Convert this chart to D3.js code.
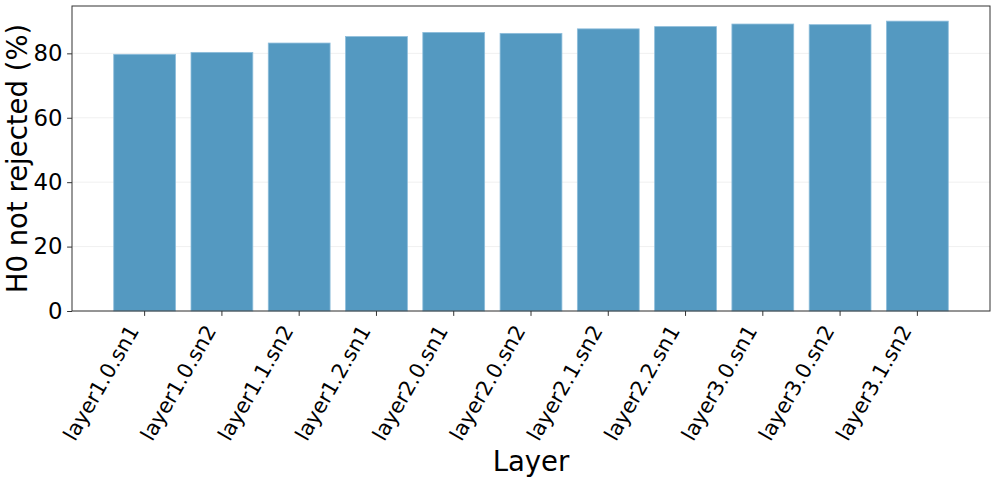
<!DOCTYPE html>
<html>
<head>
<meta charset="utf-8">
<script src="https://cdn.jsdelivr.net/npm/d3@7"></script>
<style>
  html, body { margin: 0; padding: 0; background: #fff; }
  svg { display: block; font-family: "DejaVu Sans", sans-serif; }
</style>
</head>
<body>
<svg id="chart" width="997" height="483"></svg>
<script>
const categories = ["layer1.0.sn1", "layer1.0.sn2", "layer1.1.sn2", "layer1.2.sn1", "layer2.0.sn1", "layer2.0.sn2", "layer2.1.sn2", "layer2.2.sn1", "layer3.0.sn1", "layer3.0.sn2", "layer3.1.sn2"];
const values = [79.7, 80.3, 83.2, 85.2, 86.5, 86.2, 87.6, 88.3, 89.1, 88.9, 90.0];
const yTicks = [0, 20, 40, 60, 80];
const xLabel = "Layer";
const yLabel = "H0 not rejected (%)";

const svg = d3.select("#chart");
const L = 72, R = 990, T = 6, B = 311;

const x = d3.scaleBand().domain(categories).range([L, R]).paddingInner(0.2).paddingOuter(0.54);
const y = d3.scaleLinear().domain([0, 94.7]).range([B, T]);

// grid
svg.append("g").selectAll("line").data(yTicks).join("line")
  .attr("x1", L).attr("x2", R)
  .attr("y1", d => y(d)).attr("y2", d => y(d))
  .attr("stroke", "#ececec").attr("stroke-width", 0.8);

// bars
svg.append("g").selectAll("rect").data(values).join("rect")
  .attr("x", (d, i) => x(categories[i]))
  .attr("width", x.bandwidth())
  .attr("y", d => y(d))
  .attr("height", d => B - y(d))
  .attr("fill", "#5499c1")
  .attr("stroke", "#8dbddb")
  .attr("stroke-width", 0.8);

// y axis
const yAxis = svg.append("g").attr("transform", `translate(${L},0)`)
  .call(d3.axisLeft(y).tickValues(yTicks).tickSize(4.9).tickPadding(4.5).tickFormat(d3.format("d")));
yAxis.select(".domain").remove();
yAxis.selectAll("line").attr("stroke", "#333").attr("stroke-width", 1);
yAxis.selectAll("text").attr("font-size", "22.8px").attr("fill", "#000").attr("font-family", "DejaVu Sans");

// x axis
const xAxis = svg.append("g").attr("transform", `translate(0,${B})`)
  .call(d3.axisBottom(x).tickSize(4.9).tickFormat(""));
xAxis.select(".domain").remove();
xAxis.selectAll("line").attr("stroke", "#333").attr("stroke-width", 1);

// rotated x tick labels
svg.append("g").selectAll("text").data(categories).join("text")
  .attr("transform", d => `translate(${x(d) + x.bandwidth() / 2 - 5},${330.5}) rotate(-60)`)
  .attr("text-anchor", "end")
  .attr("font-size", "20.8px")
  .attr("fill", "#000")
  .text(d => d);

// frame
svg.append("rect").attr("x", L).attr("y", T).attr("width", R - L).attr("height", B - T)
  .attr("fill", "none").attr("stroke", "#333").attr("stroke-width", 1);

// axis labels
svg.append("text").attr("x", (L + R) / 2).attr("y", 471)
  .attr("text-anchor", "middle").attr("font-size", "27.5px").attr("fill", "#000").text(xLabel);
svg.append("text").attr("transform", `translate(27,${(T + B) / 2}) rotate(-90)`)
  .attr("text-anchor", "middle").attr("font-size", "27.5px").attr("fill", "#000").text(yLabel);
</script>
</body>
</html>
